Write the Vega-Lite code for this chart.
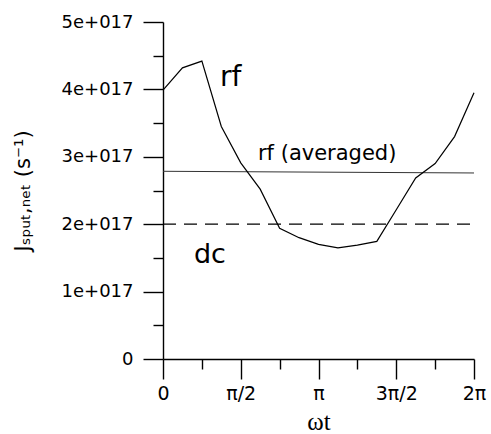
{
  "$schema": "https://vega.github.io/schema/vega-lite/v6.json",
  "width": 311,
  "height": 337,
  "autosize": {"type": "none"},
  "padding": {"left": 163, "top": 22, "right": 17, "bottom": 75},
  "background": "white",
  "config": {
    "view": {"stroke": null},
    "font": "DejaVu Sans"
  },
  "datasets": {
    "rf": [
      {"wt": 0, "J": 3.99e17},
      {"wt": 0.3927, "J": 4.32e17},
      {"wt": 0.7854, "J": 4.42e17},
      {"wt": 1.1781, "J": 3.45e17},
      {"wt": 1.5708, "J": 2.91e17},
      {"wt": 1.9635, "J": 2.52e17},
      {"wt": 2.3562, "J": 1.94e17},
      {"wt": 2.7489, "J": 1.80e17},
      {"wt": 3.1416, "J": 1.70e17},
      {"wt": 3.5343, "J": 1.65e17},
      {"wt": 3.927, "J": 1.69e17},
      {"wt": 4.3197, "J": 1.745e17},
      {"wt": 4.7124, "J": 2.215e17},
      {"wt": 5.1051, "J": 2.685e17},
      {"wt": 5.4978, "J": 2.90e17},
      {"wt": 5.8905, "J": 3.30e17},
      {"wt": 6.2832, "J": 3.95e17}
    ],
    "avg": [
      {"wt": 0, "J": 2.785e17},
      {"wt": 6.2832, "J": 2.76e17}
    ],
    "dc": [
      {"wt": 0, "J": 2.0e17},
      {"wt": 6.2832, "J": 2.0e17}
    ],
    "labels": [
      {"wt": 1.152, "J": 4.055e17, "text": "rf", "size": 28},
      {"wt": 0.626, "J": 1.43e17, "text": "dc", "size": 27},
      {"wt": 1.919, "J": 2.957e17, "text": "rf (averaged)", "size": 21}
    ]
  },
  "encoding": {
    "x": {
      "field": "wt",
      "type": "quantitative",
      "scale": {"domain": [0, 6.283185307179586], "nice": false, "zero": false},
      "axis": {
        "title": "ωt",
        "titleFont": "Liberation Serif",
        "titleFontSize": 25,
        "titleFontWeight": "normal",
        "titleColor": "black",
        "titlePadding": 6,
        "values": [0, 0.7853981633974483, 1.5707963267948966, 2.356194490192345, 3.141592653589793, 3.9269908169872414, 4.71238898038469, 5.497787143782138, 6.283185307179586],
        "labelExpr": "['0','','π/2','','π','','3π/2','','2π'][round(datum.value/(PI/4))]",
        "labelFontSize": 19,
        "labelColor": "black",
        "labelPadding": 5,
        "labelFlush": false,
        "labelOverlap": false,
        "grid": false,
        "domainColor": "black",
        "domainWidth": 1.4,
        "tickColor": "black",
        "tickWidth": 1.4,
        "tickSize": {"condition": {"test": "round(datum.value/(PI/4)) % 2 == 0", "value": 20}, "value": 10}
      }
    },
    "y": {
      "field": "J",
      "type": "quantitative",
      "scale": {"domain": [0, 5e17], "nice": false, "zero": true},
      "axis": {
        "title": "Jₛₚᵤₜ,ₙₑₜ (s⁻¹)",
        "titleFontSize": 21,
        "titleFontWeight": "normal",
        "titleColor": "black",
        "titlePadding": 28,
        "values": [0, 0.5e17, 1e17, 1.5e17, 2e17, 2.5e17, 3e17, 3.5e17, 4e17, 4.5e17, 5e17],
        "labelExpr": "datum.value == 0 ? '0' : (datum.value % 1e17 == 0 ? format(datum.value/1e17, 'd') + 'e+017' : '')",
        "labelFontSize": 18,
        "labelColor": "black",
        "labelPadding": 10,
        "labelFlush": false,
        "labelOverlap": false,
        "grid": false,
        "domainColor": "black",
        "domainWidth": 1.4,
        "tickColor": "black",
        "tickWidth": 1.4,
        "tickSize": {"condition": {"test": "datum.value % 1e17 == 0", "value": 20}, "value": 10}
      }
    }
  },
  "layer": [
    {
      "data": {"name": "dc"},
      "mark": {"type": "line", "color": "black", "strokeWidth": 1.2, "strokeDash": [13, 8]}
    },
    {
      "data": {"name": "avg"},
      "mark": {"type": "line", "color": "#333333", "strokeWidth": 1}
    },
    {
      "data": {"name": "rf"},
      "mark": {"type": "line", "color": "black", "strokeWidth": 1.2}
    },
    {
      "data": {"name": "labels"},
      "mark": {"type": "text", "align": "left", "baseline": "alphabetic", "color": "black"},
      "encoding": {
        "text": {"field": "text"},
        "size": {"field": "size", "type": "quantitative", "scale": null}
      }
    }
  ]
}
